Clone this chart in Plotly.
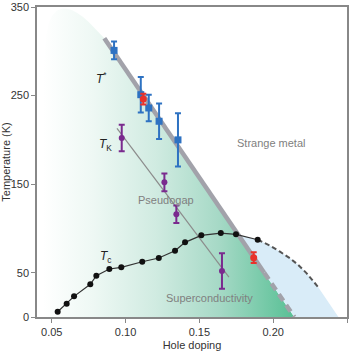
import plotly.graph_objects as go

# ---- data ----
tstar_x = [0.0922, 0.1103, 0.1157, 0.1227, 0.1355]
tstar_y = [301, 251, 236, 221, 200]
tstar_err = [10, 20, 15, 20, 30]

red_x = [0.1120, 0.1868]
red_y = [246, 67]
red_err = [6, 6]

tk_x = [0.0974, 0.1263, 0.1344, 0.1653]
tk_y = [202, 152, 116, 52]
tk_err = [15, 10, 10, 20]

tk_line_x = [0.0942, 0.1700]
tk_line_y = [213, 45]

tstar_solid_x = [0.0856, 0.1748, 0.1939]
tstar_solid_y = [314.6, 96.7, 50.0]
tstar_dash_x = [0.1939, 0.2143]
tstar_dash_y = [50.0, 0]

tc_x = [0.0540, 0.0601, 0.0651, 0.0761, 0.0802, 0.0890, 0.0971, 0.1113,
        0.1225, 0.1335, 0.1403, 0.1513, 0.1645, 0.1748, 0.1895]
tc_y = [6.0, 15.0, 23.3, 36.9, 46.6, 54.2, 56.1, 62.4,
        66.6, 74.8, 84.3, 92.2, 94.8, 93.3, 87.2]

tc_ext_x = [0.1895, 0.1979, 0.2046, 0.2114, 0.2170, 0.2227, 0.2283, 0.2304]
tc_ext_y = [87.2, 80.5, 73.7, 66.3, 58.7, 49.3, 38.1, 33.9]

dome_x = [0.0440, 0.0441, 0.0444, 0.0450, 0.0462, 0.0480, 0.0505, 0.0535,
          0.0570, 0.0601, 0.0635, 0.0670, 0.0710, 0.0750, 0.0790, 0.0825, 0.0856]
dome_y = [0, 200, 260, 295, 318, 332, 341, 346,
          348, 348, 346.5, 343.5, 339, 333, 326, 320, 314.6]

blue_end_x = 0.2442

x_ticks = [0.05, 0.10, 0.15, 0.20, 0.25]
y_ticks = [0, 50, 150, 250, 350]

FONT = "Liberation Sans, Arial, sans-serif"

fig = go.Figure()

# green dome (pseudogap / SC region) with horizontal gradient
gx = dome_x + tstar_solid_x[1:] + tstar_dash_x[1:] + [dome_x[0]]
gy = dome_y + tstar_solid_y[1:] + tstar_dash_y[1:] + [dome_y[0]]
fig.add_trace(go.Scatter(
    x=gx, y=gy, mode="lines", fill="toself", line=dict(width=0),
    fillgradient=dict(type="horizontal",
                      colorscale=[[0, "#ffffff"], [0.2, "#eef8f4"], [0.45, "#d0ebe1"],
                                  [0.7, "#a6d9c6"], [1, "#58c095"]]),
    hoverinfo="skip", showlegend=False))

# light-blue overdoped region (between T* line and the Tc dome)
bx = [tc_x[-2]] + tstar_solid_x[2:] + tstar_dash_x[1:] + [blue_end_x] + tc_ext_x[::-1] + [tc_x[-2]]
by = [tc_y[-2]] + tstar_solid_y[2:] + tstar_dash_y[1:] + [0] + tc_ext_y[::-1] + [tc_y[-2]]
fig.add_trace(go.Scatter(
    x=bx, y=by, mode="lines", fill="toself", fillcolor="#d9ecf8",
    line=dict(width=0), hoverinfo="skip", showlegend=False))

# T* line
fig.add_trace(go.Scatter(x=tstar_solid_x, y=tstar_solid_y, mode="lines",
                         line=dict(color="#a2a2aa", width=4.5), hoverinfo="skip", showlegend=False))
fig.add_trace(go.Scatter(x=tstar_dash_x, y=tstar_dash_y, mode="lines",
                         line=dict(color="#a2a2aa", width=4.5, dash="8px,5px"), hoverinfo="skip", showlegend=False))

# T_K fit line
fig.add_trace(go.Scatter(x=tk_line_x, y=tk_line_y, mode="lines",
                         line=dict(color="#8c8c8c", width=1.2), hoverinfo="skip", showlegend=False))

# Tc
fig.add_trace(go.Scatter(x=tc_ext_x, y=tc_ext_y, mode="lines",
                         line=dict(color="#555555", width=2, dash="5px,3px"), hoverinfo="skip", showlegend=False))
fig.add_trace(go.Scatter(x=tc_x, y=tc_y, mode="lines+markers",
                         line=dict(color="#333333", width=1.2),
                         marker=dict(color="#111111", size=6), hoverinfo="skip", showlegend=False))

# T* points
fig.add_trace(go.Scatter(x=tstar_x, y=tstar_y, mode="markers",
                         marker=dict(symbol="square", color="#2e72c2", size=7),
                         error_y=dict(type="data", array=tstar_err, color="#2e72c2", thickness=2, width=3),
                         hoverinfo="skip", showlegend=False))
# red points
fig.add_trace(go.Scatter(x=red_x, y=red_y, mode="markers",
                         marker=dict(symbol="circle", color="#e8322c", size=7),
                         error_y=dict(type="data", array=red_err, color="#e8322c", thickness=2, width=3),
                         hoverinfo="skip", showlegend=False))
# T_K points
fig.add_trace(go.Scatter(x=tk_x, y=tk_y, mode="markers",
                         marker=dict(symbol="circle", color="#7a2a8e", size=6),
                         error_y=dict(type="data", array=tk_err, color="#7a2a8e", thickness=2, width=3),
                         hoverinfo="skip", showlegend=False))

ann = [
    dict(x=0.0838, y=270, text="<i>T</i><sup>*</sup>", size=12, color="#222222"),
    dict(x=0.0862, y=194, text="<i>T</i><sub>K</sub>", size=12, color="#222222"),
    dict(x=0.0866, y=68, text="<i>T</i><sub>c</sub>", size=12, color="#222222"),
    dict(x=0.1273, y=132, text="Pseudogap", size=11, color="#808080"),
    dict(x=0.1985, y=196, text="Strange metal", size=11, color="#808080"),
    dict(x=0.1570, y=22, text="Superconductivity", size=11, color="#808080"),
]
for a in ann:
    fig.add_annotation(x=a["x"], y=a["y"], text=a["text"], showarrow=False,
                       font=dict(family=FONT, size=a["size"], color=a["color"]),
                       xanchor="center", yanchor="middle")

fig.update_layout(
    width=357, height=351,
    margin=dict(l=37, r=10, t=7, b=34, autoexpand=False),
    paper_bgcolor="white", plot_bgcolor="white",
    font=dict(family=FONT, size=11, color="#333333"),
    xaxis=dict(range=[0.04, 0.25], tickvals=x_ticks, tickformat=".2f", automargin=True,
               showgrid=False, zeroline=False, showline=True, linecolor="#888888", linewidth=1.5,
               mirror=True, ticks="outside", ticklen=4, tickcolor="#888888",
               title=dict(text="Hole doping", font=dict(size=11), standoff=6)),
    yaxis=dict(range=[0, 350], tickvals=y_ticks, automargin=True,
               showgrid=False, zeroline=False, showline=True, linecolor="#888888", linewidth=1.5,
               mirror=True, ticks="outside", ticklen=4, tickcolor="#888888",
               title=dict(text="Temperature (K)", font=dict(size=11), standoff=4)),
)

fig.write_html("out.html")
